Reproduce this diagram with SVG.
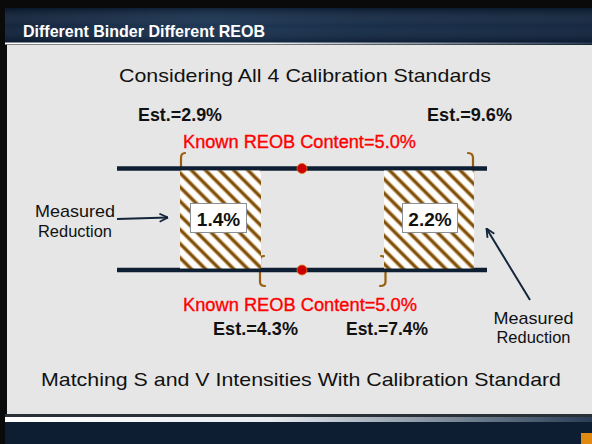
<svg xmlns="http://www.w3.org/2000/svg" width="592" height="444" viewBox="0 0 592 444">
  <defs>
    <style>
      .title { font-family: "Liberation Sans", Arial, sans-serif; font-weight: bold; font-size: 17px; fill: #ffffff; }
      .body { font-family: "Liberation Sans", Arial, sans-serif; fill: #111111; }
      .est { font-family: "Liberation Sans", Arial, sans-serif; font-weight: bold; font-size: 18px; fill: #111111; }
      .known { font-family: "Liberation Sans", Arial, sans-serif; font-size: 18px; fill: #ff0000; stroke: #ff0000; stroke-width: 0.35; }
      .pct { font-family: "Liberation Sans", Arial, sans-serif; font-weight: bold; font-size: 19px; fill: #111111; }
      .rail { stroke: #0e1f33; stroke-width: 4.5; fill: none; }
      .brace { stroke: #9a5e0c; stroke-width: 2.2; fill: none; stroke-linecap: round; }
      .dot { fill: #cc0000; stroke: #d97a10; stroke-width: 0.8; }
      .arrow { stroke: #13243b; stroke-width: 2; fill: none; }
      .tag { fill: #ffffff; stroke: #8a8f96; stroke-width: 1; }
    </style>
    <linearGradient id="hdr" x1="0" y1="0" x2="1" y2="0">
      <stop offset="0" stop-color="#0b1d36"/>
      <stop offset="0.35" stop-color="#16304f"/>
      <stop offset="0.6" stop-color="#0f2642"/>
      <stop offset="1" stop-color="#0c203a"/>
    </linearGradient>
    <linearGradient id="hdrV" x1="0" y1="0" x2="0" y2="1">
      <stop offset="0" stop-color="#000000" stop-opacity="0.25"/>
      <stop offset="0.5" stop-color="#ffffff" stop-opacity="0.04"/>
      <stop offset="1" stop-color="#000000" stop-opacity="0.2"/>
    </linearGradient>
    <linearGradient id="shine" x1="0" y1="0" x2="1" y2="0">
      <stop offset="0" stop-color="#ffffff"/>
      <stop offset="0.45" stop-color="#e8ecf0"/>
      <stop offset="0.8" stop-color="#6d7c8c"/>
      <stop offset="1" stop-color="#2a3d55"/>
    </linearGradient>
    <!-- diagonal brown hatching for the reduction bands -->
    <pattern id="hatch" patternUnits="userSpaceOnUse" width="10" height="10" patternTransform="rotate(-45)">
      <rect width="10" height="10" fill="#ffffff"/>
      <rect x="2.8" y="0" width="4.4" height="10" fill="#d6bd98"/>
      <rect x="3.5" y="0" width="3" height="10" fill="#946219"/>
      <rect x="4.1" y="0" width="1.8" height="10" fill="#7a4b05"/>
    </pattern>
    <marker id="head" viewBox="0 0 10 10" refX="9.5" refY="5" markerWidth="10" markerHeight="10" markerUnits="userSpaceOnUse" orient="auto">
      <path d="M1,1 L9.5,5 L1,9" fill="none" stroke="#13243b" stroke-width="1.8"/>
    </marker>
  </defs>

  <!-- slide frame -->
  <rect width="592" height="444" fill="#0a0a0a"/>
  <rect x="7" y="45" width="585" height="370" fill="#e6e6e6"/>

  <!-- header bar -->
  <g id="header">
    <rect x="5" y="8" width="587" height="35" fill="url(#hdr)"/>
    <rect x="5" y="8" width="587" height="35" fill="url(#hdrV)"/>
    <rect x="5" y="42.5" width="587" height="2" fill="url(#shine)"/>
    <text class="title" x="23" y="36.5" textLength="242" lengthAdjust="spacingAndGlyphs">Different Binder Different REOB</text>
  </g>

  <!-- footer bar -->
  <g id="footer">
    <rect x="5" y="414" width="587" height="3" fill="#2b2f36"/>
    <rect x="5" y="417" width="587" height="5" fill="url(#shine)"/>
    <rect x="5" y="422" width="587" height="22" fill="#0d1e33"/>
    <rect x="581" y="433" width="11" height="11" fill="#e08a12"/>
  </g>

  <text class="body" x="305" y="82" font-size="19" text-anchor="middle" textLength="372" lengthAdjust="spacingAndGlyphs">Considering All 4 Calibration Standards</text>

  <!-- estimate labels -->
  <g id="est-top">
    <text class="est" x="138" y="121" textLength="84" lengthAdjust="spacingAndGlyphs">Est.=2.9%</text>
    <text class="est" x="427" y="121" textLength="85" lengthAdjust="spacingAndGlyphs">Est.=9.6%</text>
    <text class="known" x="183" y="148" textLength="233" lengthAdjust="spacingAndGlyphs">Known REOB Content=5.0%</text>
  </g>

  <!-- braces marking spans on the rails -->
  <g id="braces">
    <path class="brace" d="M185,153 Q181,153 181,158 L181,172"/>
    <path class="brace" d="M468,153 Q473,153 473,158 L473,180"/>
    <path class="brace" d="M264,256 Q260,256 260,260 L260,282 Q260,286 265,286"/>
    <path class="brace" d="M381,256 Q385.5,256 385.5,260 L385.5,282 Q385.5,286 380,286"/>
  </g>

  <!-- rails -->
  <g id="rails">
    <line class="rail" x1="117" y1="168.5" x2="487" y2="168.5"/>
    <line class="rail" x1="117" y1="270" x2="487" y2="270"/>
  </g>

  <!-- hatched reduction bands -->
  <g id="band-left">
    <rect x="180" y="170.5" width="81" height="98" fill="url(#hatch)"/>
    <rect class="tag" x="190.5" y="203.5" width="56" height="29"/>
    <text class="pct" x="218.5" y="226" text-anchor="middle">1.4%</text>
  </g>
  <g id="band-right">
    <rect x="384" y="170.5" width="90" height="98" fill="url(#hatch)"/>
    <rect class="tag" x="402.5" y="203.5" width="55" height="29"/>
    <text class="pct" x="430" y="226" text-anchor="middle">2.2%</text>
  </g>

  <!-- content markers -->
  <g id="markers">
    <circle class="dot" cx="302" cy="168.5" r="5"/>
    <circle class="dot" cx="302" cy="270" r="5"/>
  </g>

  <!-- measured reduction callouts -->
  <g id="callout-left">
    <text class="body" x="75" y="217" font-size="17" text-anchor="middle" textLength="80" lengthAdjust="spacingAndGlyphs">Measured</text>
    <text class="body" x="75" y="237" font-size="17" text-anchor="middle" textLength="74" lengthAdjust="spacingAndGlyphs">Reduction</text>
  </g>
  <g id="callout-right">
    <text class="body" x="533.5" y="324" font-size="17" text-anchor="middle" textLength="80" lengthAdjust="spacingAndGlyphs">Measured</text>
    <text class="body" x="533.5" y="343" font-size="17" text-anchor="middle" textLength="74" lengthAdjust="spacingAndGlyphs">Reduction</text>
  </g>
  <g id="connectors">
    <line class="arrow" x1="117" y1="219" x2="168" y2="217.5" marker-end="url(#head)"/>
    <line class="arrow" x1="530" y1="300" x2="486.5" y2="228.5" marker-end="url(#head)"/>
  </g>

  <g id="est-bottom">
    <text class="known" x="183" y="311" textLength="234" lengthAdjust="spacingAndGlyphs">Known REOB Content=5.0%</text>
    <text class="est" x="213" y="335" textLength="85" lengthAdjust="spacingAndGlyphs">Est.=4.3%</text>
    <text class="est" x="346" y="335" textLength="82" lengthAdjust="spacingAndGlyphs">Est.=7.4%</text>
  </g>

  <text class="body" x="301" y="386" font-size="19" text-anchor="middle" textLength="520" lengthAdjust="spacingAndGlyphs">Matching S and V Intensities With Calibration Standard</text>
</svg>
